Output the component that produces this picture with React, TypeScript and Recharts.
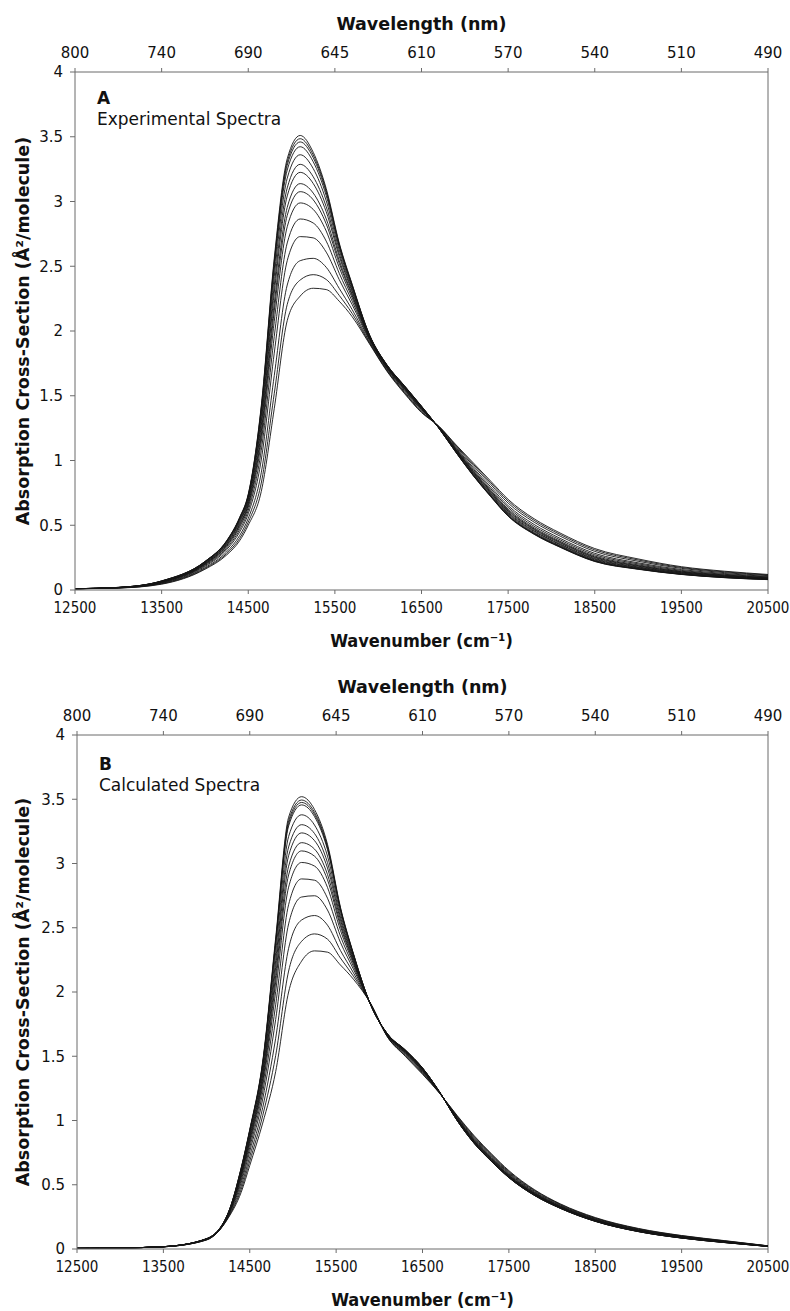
import React from 'react';
import { LineChart, Line, XAxis, YAxis, ReferenceLine, Customized } from 'recharts';

// Wavenumber grid (cm^-1) shared by all spectra
const wavenumbers = [12500, 13000, 13500, 14000, 14250, 14400, 14500, 14650, 14800, 14950, 15100, 15250, 15400, 15550, 15700, 15900, 16100, 16300, 16500, 16700, 16900, 17100, 17300, 17500, 17800, 18100, 18500, 19000, 19500, 20000, 20500];
const wavenumberTicks = [12500, 13500, 14500, 15500, 16500, 17500, 18500, 19500, 20500];
const wavelengthLabels = ['800', '740', '690', '645', '610', '570', '540', '510', '490'];
const crossSectionTicks = [0, 0.5, 1, 1.5, 2, 2.5, 3, 3.5, 4];

// Panel A – experimental spectra
const exp01 = [0.01, 0.02, 0.07, 0.22, 0.38, 0.56, 0.74, 1.42, 2.56, 3.33, 3.51, 3.38, 3.10, 2.68, 2.36, 1.97, 1.74, 1.58, 1.42, 1.25, 1.06, 0.88, 0.72, 0.57, 0.43, 0.33, 0.22, 0.16, 0.12, 0.095, 0.08];
const exp02 = [0.01, 0.02, 0.07, 0.22, 0.378, 0.556, 0.735, 1.407, 2.537, 3.305, 3.485, 3.359, 3.084, 2.671, 2.355, 1.969, 1.739, 1.579, 1.419, 1.25, 1.061, 0.882, 0.722, 0.573, 0.432, 0.332, 0.222, 0.162, 0.121, 0.096, 0.081];
const exp03 = [0.01, 0.02, 0.069, 0.218, 0.376, 0.553, 0.73, 1.394, 2.514, 3.28, 3.46, 3.338, 3.069, 2.662, 2.35, 1.967, 1.738, 1.578, 1.418, 1.251, 1.062, 0.884, 0.725, 0.575, 0.435, 0.334, 0.224, 0.163, 0.122, 0.097, 0.082];
const exp04 = [0.01, 0.02, 0.068, 0.216, 0.372, 0.547, 0.723, 1.374, 2.479, 3.243, 3.423, 3.307, 3.045, 2.649, 2.343, 1.965, 1.737, 1.576, 1.417, 1.251, 1.064, 0.887, 0.728, 0.579, 0.438, 0.338, 0.227, 0.166, 0.124, 0.099, 0.083];
const exp05 = [0.01, 0.019, 0.067, 0.213, 0.367, 0.538, 0.711, 1.341, 2.421, 3.18, 3.361, 3.254, 3.006, 2.626, 2.33, 1.962, 1.734, 1.573, 1.414, 1.252, 1.067, 0.892, 0.734, 0.586, 0.444, 0.343, 0.232, 0.17, 0.127, 0.101, 0.085];
const exp06 = [0.01, 0.019, 0.066, 0.209, 0.36, 0.528, 0.697, 1.301, 2.351, 3.105, 3.287, 3.191, 2.96, 2.599, 2.315, 1.957, 1.731, 1.569, 1.411, 1.253, 1.071, 0.898, 0.742, 0.593, 0.452, 0.35, 0.238, 0.174, 0.131, 0.104, 0.087];
const exp07 = [0.01, 0.019, 0.064, 0.206, 0.355, 0.519, 0.685, 1.268, 2.293, 3.043, 3.225, 3.139, 2.921, 2.577, 2.303, 1.954, 1.729, 1.566, 1.409, 1.253, 1.074, 0.903, 0.748, 0.6, 0.458, 0.355, 0.243, 0.178, 0.134, 0.107, 0.089];
const exp08 = [0.01, 0.019, 0.063, 0.202, 0.347, 0.506, 0.668, 1.222, 2.212, 2.955, 3.138, 3.065, 2.866, 2.545, 2.285, 1.949, 1.725, 1.562, 1.405, 1.255, 1.078, 0.91, 0.756, 0.609, 0.466, 0.363, 0.25, 0.184, 0.138, 0.11, 0.092];
const exp09 = [0.01, 0.018, 0.061, 0.199, 0.342, 0.497, 0.656, 1.189, 2.154, 2.893, 3.076, 3.013, 2.827, 2.523, 2.273, 1.946, 1.723, 1.559, 1.403, 1.255, 1.081, 0.915, 0.762, 0.616, 0.472, 0.369, 0.255, 0.188, 0.141, 0.113, 0.094];
const exp10 = [0.01, 0.018, 0.06, 0.195, 0.334, 0.484, 0.639, 1.143, 2.073, 2.805, 2.989, 2.939, 2.772, 2.491, 2.255, 1.941, 1.719, 1.555, 1.399, 1.256, 1.085, 0.922, 0.77, 0.625, 0.48, 0.376, 0.262, 0.194, 0.145, 0.116, 0.097];
const exp11 = [0.01, 0.017, 0.057, 0.189, 0.323, 0.466, 0.615, 1.077, 1.957, 2.68, 2.865, 2.834, 2.694, 2.446, 2.23, 1.934, 1.714, 1.549, 1.394, 1.258, 1.091, 0.932, 0.782, 0.638, 0.492, 0.387, 0.272, 0.202, 0.151, 0.121, 0.101];
const exp12 = [0.01, 0.017, 0.054, 0.182, 0.311, 0.447, 0.589, 1.004, 1.829, 2.543, 2.729, 2.719, 2.609, 2.397, 2.203, 1.926, 1.709, 1.542, 1.389, 1.259, 1.098, 0.943, 0.796, 0.652, 0.506, 0.399, 0.283, 0.21, 0.158, 0.127, 0.105];
const exp13 = [0.01, 0.016, 0.051, 0.173, 0.294, 0.42, 0.553, 0.905, 1.655, 2.355, 2.543, 2.561, 2.492, 2.329, 2.165, 1.915, 1.701, 1.533, 1.381, 1.262, 1.107, 0.958, 0.814, 0.671, 0.524, 0.416, 0.298, 0.222, 0.167, 0.134, 0.111];
const exp14 = [0.01, 0.016, 0.048, 0.166, 0.281, 0.398, 0.524, 0.826, 1.516, 2.205, 2.394, 2.435, 2.398, 2.275, 2.135, 1.907, 1.695, 1.526, 1.375, 1.264, 1.114, 0.97, 0.828, 0.687, 0.538, 0.429, 0.31, 0.232, 0.174, 0.14, 0.116];
const exp15 = [0.01, 0.015, 0.045, 0.16, 0.27, 0.38, 0.50, 0.76, 1.40, 2.08, 2.27, 2.33, 2.32, 2.23, 2.11, 1.90, 1.69, 1.52, 1.37, 1.265, 1.12, 0.98, 0.84, 0.70, 0.55, 0.44, 0.32, 0.24, 0.18, 0.145, 0.12];

// Panel B – calculated spectra
const calc01 = [0.005, 0.008, 0.018, 0.08, 0.28, 0.63, 0.93, 1.46, 2.42, 3.36, 3.52, 3.42, 3.15, 2.66, 2.30, 1.90, 1.67, 1.55, 1.41, 1.22, 1.00, 0.82, 0.68, 0.555, 0.415, 0.315, 0.215, 0.135, 0.085, 0.05, 0.02];
const calc02 = [0.005, 0.008, 0.018, 0.08, 0.279, 0.626, 0.924, 1.45, 2.399, 3.333, 3.494, 3.398, 3.133, 2.651, 2.296, 1.90, 1.669, 1.549, 1.409, 1.22, 1.001, 0.821, 0.681, 0.556, 0.416, 0.316, 0.216, 0.136, 0.085, 0.05, 0.02];
const calc03 = [0.005, 0.008, 0.018, 0.08, 0.279, 0.623, 0.92, 1.443, 2.384, 3.312, 3.475, 3.382, 3.121, 2.644, 2.293, 1.90, 1.669, 1.548, 1.408, 1.22, 1.001, 0.822, 0.682, 0.557, 0.417, 0.316, 0.216, 0.136, 0.086, 0.05, 0.02];
const calc04 = [0.005, 0.008, 0.018, 0.08, 0.278, 0.62, 0.916, 1.436, 2.368, 3.292, 3.456, 3.365, 3.108, 2.638, 2.29, 1.90, 1.669, 1.548, 1.408, 1.22, 1.002, 0.823, 0.683, 0.558, 0.417, 0.317, 0.217, 0.136, 0.086, 0.051, 0.02];
const calc05 = [0.005, 0.008, 0.018, 0.079, 0.276, 0.609, 0.899, 1.407, 2.306, 3.21, 3.379, 3.299, 3.058, 2.611, 2.278, 1.901, 1.667, 1.545, 1.405, 1.219, 1.004, 0.827, 0.687, 0.561, 0.42, 0.319, 0.218, 0.138, 0.087, 0.052, 0.021];
const calc06 = [0.005, 0.008, 0.018, 0.078, 0.273, 0.598, 0.882, 1.378, 2.243, 3.129, 3.302, 3.233, 3.007, 2.584, 2.266, 1.902, 1.665, 1.542, 1.402, 1.218, 1.007, 0.83, 0.69, 0.564, 0.423, 0.321, 0.22, 0.139, 0.088, 0.053, 0.021];
const calc07 = [0.005, 0.008, 0.018, 0.078, 0.271, 0.588, 0.868, 1.354, 2.191, 3.061, 3.238, 3.178, 2.965, 2.561, 2.256, 1.902, 1.663, 1.539, 1.399, 1.218, 1.009, 0.833, 0.693, 0.567, 0.425, 0.323, 0.222, 0.141, 0.089, 0.053, 0.021];
const calc08 = [0.005, 0.008, 0.018, 0.077, 0.269, 0.577, 0.852, 1.326, 2.129, 2.979, 3.162, 3.112, 2.915, 2.534, 2.244, 1.903, 1.662, 1.536, 1.396, 1.217, 1.011, 0.837, 0.697, 0.57, 0.428, 0.325, 0.223, 0.142, 0.091, 0.054, 0.021];
const calc09 = [0.005, 0.008, 0.018, 0.077, 0.267, 0.567, 0.838, 1.302, 2.077, 2.911, 3.098, 3.057, 2.873, 2.512, 2.234, 1.903, 1.66, 1.534, 1.394, 1.217, 1.013, 0.84, 0.70, 0.573, 0.43, 0.327, 0.225, 0.143, 0.092, 0.055, 0.022];
const calc10 = [0.005, 0.008, 0.018, 0.076, 0.264, 0.554, 0.818, 1.268, 2.004, 2.816, 3.008, 2.98, 2.814, 2.48, 2.22, 1.904, 1.658, 1.53, 1.39, 1.216, 1.016, 0.844, 0.704, 0.577, 0.433, 0.329, 0.227, 0.145, 0.093, 0.056, 0.022];
const calc11 = [0.005, 0.008, 0.018, 0.075, 0.26, 0.535, 0.79, 1.22, 1.90, 2.68, 2.88, 2.87, 2.73, 2.435, 2.20, 1.905, 1.655, 1.525, 1.385, 1.215, 1.02, 0.85, 0.71, 0.583, 0.438, 0.333, 0.23, 0.148, 0.095, 0.058, 0.023];
const calc12 = [0.005, 0.008, 0.017, 0.074, 0.256, 0.514, 0.759, 1.167, 1.786, 2.53, 2.739, 2.749, 2.638, 2.386, 2.178, 1.906, 1.652, 1.52, 1.38, 1.214, 1.024, 0.857, 0.717, 0.589, 0.442, 0.336, 0.233, 0.15, 0.097, 0.059, 0.023];
const calc13 = [0.005, 0.008, 0.017, 0.073, 0.25, 0.488, 0.72, 1.10, 1.64, 2.34, 2.56, 2.595, 2.52, 2.323, 2.15, 1.907, 1.648, 1.513, 1.373, 1.213, 1.03, 0.865, 0.725, 0.596, 0.449, 0.341, 0.238, 0.154, 0.10, 0.061, 0.024];
const calc14 = [0.005, 0.008, 0.017, 0.071, 0.245, 0.463, 0.684, 1.038, 1.505, 2.163, 2.394, 2.452, 2.411, 2.264, 2.124, 1.909, 1.644, 1.506, 1.366, 1.211, 1.035, 0.873, 0.733, 0.603, 0.455, 0.346, 0.241, 0.157, 0.103, 0.063, 0.024];
const calc15 = [0.005, 0.008, 0.017, 0.07, 0.24, 0.44, 0.65, 0.98, 1.38, 2.00, 2.24, 2.32, 2.31, 2.21, 2.10, 1.91, 1.645, 1.50, 1.36, 1.21, 1.04, 0.88, 0.74, 0.61, 0.46, 0.35, 0.245, 0.16, 0.105, 0.065, 0.025];

const experimentalSpectra = [exp01, exp02, exp03, exp04, exp05, exp06, exp07, exp08, exp09, exp10, exp11, exp12, exp13, exp14, exp15];
const calculatedSpectra = [calc01, calc02, calc03, calc04, calc05, calc06, calc07, calc08, calc09, calc10, calc11, calc12, calc13, calc14, calc15];

const FONT = '"DejaVu Sans", Verdana, sans-serif';
const FONT_COND = '"DejaVu Sans Condensed", "DejaVu Sans", sans-serif';
const AXIS_COLOR = '#6b6b6b';
const TEXT_COLOR = '#111';

function buildRows(curves: number[][]) {
  return wavenumbers.map((w, i) => {
    const row: Record<string, number> = { w };
    curves.forEach((c, k) => {
      row['s' + k] = c[i];
    });
    return row;
  });
}

const YTitle = (props: any) => {
  const vb = props.viewBox || {};
  const cx = 23;
  const cy = (vb.y ?? 0) + (vb.height ?? 0) / 2;
  return (
    <text
      x={cx}
      y={cy}
      transform={`rotate(-90, ${cx}, ${cy})`}
      textAnchor="middle"
      dominantBaseline="central"
      fontFamily={FONT}
      fontWeight="bold"
      fontSize={17.5}
      fill={TEXT_COLOR}
    >
      Absorption Cross-Section (Å²/molecule)
    </text>
  );
};

type PanelProps = {
  curves: number[][];
  letter: string;
  caption: string;
  height: number;
  margin: { top: number; right: number; bottom: number; left: number };
  textX: number;
  letterY: number;
  captionY: number;
};

function Panel({ curves, letter, caption, height, margin, textX, letterY, captionY }: PanelProps) {
  const rows = buildRows(curves);
  return (
    <LineChart width={790} height={height} data={rows} margin={margin}>
      <XAxis
        xAxisId="bottom"
        dataKey="w"
        type="number"
        domain={[12500, 20500]}
        ticks={wavenumberTicks}
        orientation="bottom"
        height={30}
        stroke={AXIS_COLOR}
        tickSize={4}
        tickMargin={8}
        tick={{ fontFamily: FONT_COND, fontSize: 15, fill: TEXT_COLOR }}
        allowDataOverflow
        label={{
          value: 'Wavenumber (cm⁻¹)',
          position: 'bottom',
          offset: 14,
          style: { fontFamily: FONT_COND, fontWeight: 'bold', fontSize: 18, fill: TEXT_COLOR },
        }}
      />
      <XAxis
        xAxisId="top"
        dataKey="w"
        type="number"
        domain={[12500, 20500]}
        ticks={wavenumberTicks}
        orientation="top"
        height={30}
        stroke={AXIS_COLOR}
        tickSize={4}
        tickMargin={10}
        tickFormatter={(v: number) => wavelengthLabels[wavenumberTicks.indexOf(v)] ?? ''}
        tick={{ fontFamily: FONT, fontSize: 15, fill: TEXT_COLOR }}
        label={{
          value: 'Wavelength (nm)',
          position: 'top',
          offset: 12,
          style: { fontFamily: FONT, fontWeight: 'bold', fontSize: 17.5, fill: TEXT_COLOR },
        }}
      />
      <YAxis
        type="number"
        domain={[0, 4]}
        ticks={crossSectionTicks}
        width={60}
        stroke={AXIS_COLOR}
        tickSize={5}
        tickMargin={7}
        tick={{ fontFamily: FONT, fontSize: 15, fill: TEXT_COLOR }}
        label={<YTitle />}
      />
      <ReferenceLine xAxisId="bottom" x={20500} stroke={AXIS_COLOR} strokeWidth={1} />
      {curves.map((_, k) => (
        <Line
          key={k}
          xAxisId="bottom"
          dataKey={'s' + k}
          type="monotone"
          stroke="#141414"
          strokeWidth={0.9}
          dot={false}
          activeDot={false}
          isAnimationActive={false}
        />
      ))}
      <Customized
        component={
          <g>
            <text x={textX} y={letterY} fontFamily={FONT} fontWeight="bold" fontSize={17} fill={TEXT_COLOR}>
              {letter}
            </text>
            <text x={textX} y={captionY} fontFamily={FONT} fontSize={17} fill={TEXT_COLOR}>
              {caption}
            </text>
          </g>
        }
      />
    </LineChart>
  );
}

export default function App() {
  return (
    <div style={{ position: 'absolute', left: 0, top: 0, width: 790, height: 1311, background: '#fff' }}>
      <div style={{ position: 'absolute', left: 0, top: 0 }}>
        <Panel
          curves={experimentalSpectra}
          letter="A"
          caption="Experimental Spectra"
          height={662}
          margin={{ top: 42, right: 22, bottom: 42, left: 15 }}
          textX={97}
          letterY={104}
          captionY={125}
        />
      </div>
      <div style={{ position: 'absolute', left: 0, top: 664 }}>
        <Panel
          curves={calculatedSpectra}
          letter="B"
          caption="Calculated Spectra"
          height={647}
          margin={{ top: 41, right: 22, bottom: 32, left: 17 }}
          textX={99}
          letterY={106}
          captionY={127}
        />
      </div>
    </div>
  );
}
